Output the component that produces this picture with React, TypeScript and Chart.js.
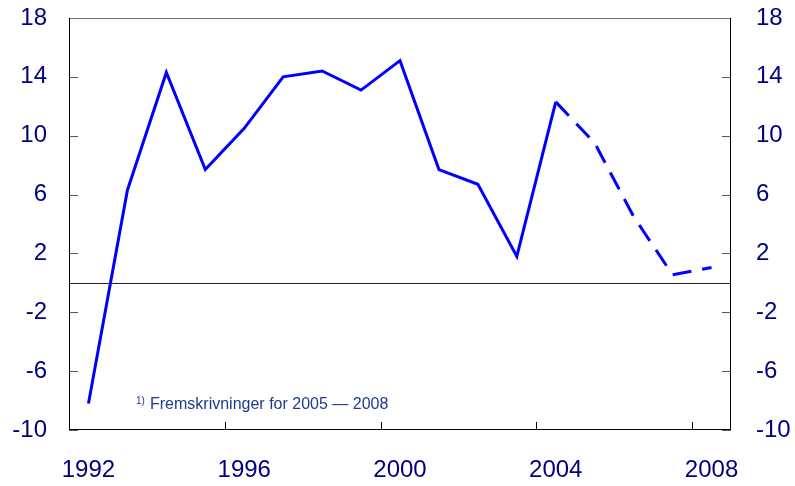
import React, { useEffect, useRef } from "react";
import { Chart, registerables } from "chart.js";

Chart.register(...registerables);

const histYears = [1992, 1993, 1994, 1995, 1996, 1997, 1998, 1999, 2000, 2001, 2002, 2003, 2004];
const histValues = [-8.2, 6.3, 14.3, 7.7, 10.5, 14.0, 14.4, 13.1, 15.1, 7.7, 6.7, 1.8, 12.3];
const projYears = [2004, 2005, 2006, 2007, 2008];
const projValues = [12.3, 9.5, 4.5, 0.55, 1.05];
const xTickLabels = [1992, 1996, 2000, 2004, 2008];
const xTickMarks = [1995.5, 1999.5, 2003.5, 2007.5];
const yTicks = [-10, -6, -2, 2, 6, 10, 14, 18];
const footnoteSup = "1)";
const footnoteText = "Fremskrivninger for 2005 \u2014 2008";

const NAVY = "#000080";
const FONT = "'Liberation Sans', Arial, sans-serif";

const framePlugin = {
  id: "frame",
  afterDraw(chart: any) {
    const { ctx, chartArea: a, scales } = chart;
    const x = scales.x;
    const y = scales.y;
    ctx.save();
    ctx.lineWidth = 1;
    ctx.strokeStyle = "#555555";
    yTicks.forEach((v) => {
      const py = Math.round(y.getPixelForValue(v)) + 0.5;
      ctx.beginPath();
      ctx.moveTo(a.left, py);
      ctx.lineTo(a.left + 9, py);
      ctx.moveTo(a.right, py);
      ctx.lineTo(a.right - 9, py);
      ctx.stroke();
    });
    ctx.strokeStyle = "#000000";
    xTickMarks.forEach((v) => {
      const px = Math.round(x.getPixelForValue(v)) + 0.5;
      ctx.beginPath();
      ctx.moveTo(px, a.bottom);
      ctx.lineTo(px, a.bottom - 8);
      ctx.stroke();
    });
    const zy = Math.round(y.getPixelForValue(0)) + 0.5;
    ctx.strokeStyle = "#222222";
    ctx.beginPath();
    ctx.moveTo(a.left, zy);
    ctx.lineTo(a.right, zy);
    ctx.stroke();
    ctx.strokeStyle = "#6e6e6e";
    ctx.beginPath();
    ctx.moveTo(a.left, a.top + 0.5);
    ctx.lineTo(a.right, a.top + 0.5);
    ctx.stroke();
    ctx.strokeStyle = "#000000";
    ctx.beginPath();
    ctx.moveTo(a.left + 0.5, a.top);
    ctx.lineTo(a.left + 0.5, a.bottom);
    ctx.moveTo(a.right - 0.5, a.top);
    ctx.lineTo(a.right - 0.5, a.bottom);
    ctx.moveTo(a.left, a.bottom - 0.5);
    ctx.lineTo(a.right, a.bottom - 0.5);
    ctx.stroke();
    ctx.fillStyle = "#1f3a8c";
    ctx.textBaseline = "alphabetic";
    ctx.textAlign = "left";
    ctx.font = `10px ${FONT}`;
    ctx.fillText(footnoteSup, 136, 404);
    ctx.font = `16px ${FONT}`;
    ctx.fillText(footnoteText, 150, 409);
    ctx.restore();
  },
};

export default function App() {
  const ref = useRef<HTMLCanvasElement | null>(null);
  useEffect(() => {
    if (!ref.current) return;
    const setTicks = (vals: number[]) => (scale: any) => {
      scale.ticks = vals.map((v) => ({ value: v }));
    };
    const fitY = (w: number) => (s: any) => {
      s.width = w;
      s.paddingTop = 0;
      s.paddingBottom = 0;
    };
    const chart = new Chart(ref.current, {
      type: "line",
      data: {
        datasets: [
          {
            data: histYears.map((yr, i) => ({ x: yr, y: histValues[i] })),
            borderColor: "#0000ff",
            borderWidth: 3,
            pointRadius: 0,
            tension: 0,
            yAxisID: "y",
          },
          {
            data: projYears.map((yr, i) => ({ x: yr, y: projValues[i] })),
            borderColor: "#0000ff",
            borderWidth: 3,
            borderDash: [19, 11],
            pointRadius: 0,
            tension: 0,
            yAxisID: "y",
          },
        ],
      },
      options: {
        animation: false,
        responsive: false,
        maintainAspectRatio: false,
        layout: { padding: { top: 18, left: 0, right: 0, bottom: 0 } },
        plugins: { legend: { display: false }, tooltip: { enabled: false } },
        scales: {
          x: {
            type: "linear",
            min: 1991.5,
            max: 2008.5,
            afterBuildTicks: setTicks(xTickLabels),
            afterFit: (s: any) => {
              s.height = 56;
              s.paddingLeft = 0;
              s.paddingRight = 0;
            },
            grid: { display: false, drawTicks: false },
            border: { display: false },
            ticks: {
              padding: 26,
              color: NAVY,
              font: { size: 24, family: FONT },
              callback: (v: any) => String(v),
              maxRotation: 0,
            },
          },
          y: {
            position: "left",
            min: -10,
            max: 18,
            afterBuildTicks: setTicks(yTicks),
            afterFit: fitY(69),
            grid: { display: false, drawTicks: false },
            border: { display: false },
            ticks: {
              padding: 22,
              color: NAVY,
              font: { size: 24, family: FONT },
            },
          },
          y2: {
            position: "right",
            min: -10,
            max: 18,
            afterBuildTicks: setTicks(yTicks),
            afterFit: fitY(64),
            grid: { display: false, drawTicks: false },
            border: { display: false },
            ticks: {
              padding: 25,
              color: NAVY,
              font: { size: 24, family: FONT },
            },
          },
        },
      },
      plugins: [framePlugin],
    });
    return () => chart.destroy();
  }, []);
  return (
    <div style={{ position: "fixed", left: 0, top: 0, width: 795, height: 486, background: "#fff" }}>
      <canvas ref={ref} width={795} height={486} style={{ width: 795, height: 486, display: "block" }} />
    </div>
  );
}
